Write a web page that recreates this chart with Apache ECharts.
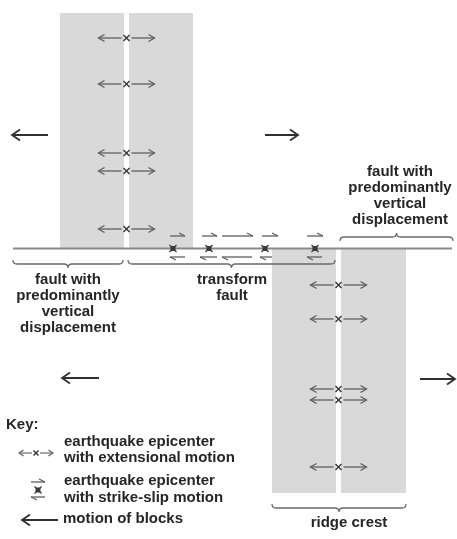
<!DOCTYPE html>
<html><head><meta charset="utf-8">
<script src="https://cdn.jsdelivr.net/npm/echarts@6/dist/echarts.min.js"></script>
<style>html,body{margin:0;padding:0;background:#fff}#c{width:457px;height:539px}</style>
</head><body><div id="c"></div>
<script>
// ---------------- diagram data ----------------
// ridge blocks [x0, x1, yTop, yBottom] (left and right of the ridge-crest gap)
const ridgeBlocks = [[60,124,13,248],[129,193,13,248],[272,336,249,493],[341,406,249,493]];
// fault line extent [xStart, xEnd] and its level
const faultExtent = [13, 452];
const faultLevel = 248.5;
// ridge crest positions and earthquake epicenters along them (y)
const upperCrestX = 126.5;
const upperQuakesY = [38, 84, 153, 171, 229];
const lowerCrestX = 338.5;
const lowerQuakesY = [285, 319, 389, 400, 467];
// strike-slip epicenters along the transform fault (x)
const transformQuakesX = [173, 209, 265, 315];
// slip arrows [from, to]
const slipArrowsNorth = [[170,185],[202,217],[222,253],[262,278],[307,323]];
const slipArrowsSouth = [[185,170],[217,200],[252,222],[272,260],[322,307]];
// block-motion arrows [tailX, headX, y]
const blockMotion = [[48,12,135],[265,298,135],[99,62,378],[420,455,379]];
// braces [x0, x1, yLine, dir]  dir=1: opens upward, tick down
const braces = [[13,123,264,1],[128,335,264,1],[340,453,237,-1],[272,406,508,1]];
// labels [text, x, y]
const labels = [
  ['fault with\npredominantly\nvertical\ndisplacement', 68, 304],
  ['transform\nfault', 232, 288],
  ['fault with\npredominantly\nvertical\ndisplacement', 400, 195.5],
  ['ridge crest', 349, 523]
];
const keyTitle = ['Key:', 6, 425];
const keyItems = [
  ['earthquake epicenter\nwith extensional motion', 64, 450],
  ['earthquake epicenter\nwith strike-slip motion', 64, 489.5],
  ['motion of blocks', 63, 519]
];
const keyExtensional = [[36, 453]];
const keyStrikeSlip = [[38, 490]];
const keyMotion = [[58, 22, 520]];

// ---------------- styles ----------------
const C = {gray:'#d9d9d9', fault:'#8a8a8a', quake:'#5f5f5f', mark:'#3a3a3a', brace:'#6a6a6a', block:'#303030', text:'#262626'};
const FONT = 'bold 15px "Liberation Sans", Arial, sans-serif';

function head(tip, dir, len, half) {
  return [[tip[0]-dir*len, tip[1]-half],[tip[0], tip[1]],[tip[0]-dir*len, tip[1]+half]];
}
function line(a, b, stroke, w) {
  return {type:'line', shape:{x1:a[0],y1:a[1],x2:b[0],y2:b[1]}, style:{stroke:stroke, lineWidth:w}};
}
function poly(pts, stroke, w) {
  return {type:'polyline', shape:{points:pts}, style:{stroke:stroke, lineWidth:w, fill:null}};
}
function custom(name, data, render, z) {
  return {type:'custom', name:name, coordinateSystem:'cartesian2d', data:data, renderItem:render,
    silent:true, animation:false, clip:false, z:z||2, encode:{x:0, y:1}};
}

function blockRender(params, api) {
  const p0 = api.coord([api.value(0), api.value(2)]);
  const p1 = api.coord([api.value(1), api.value(3)]);
  return {type:'rect', shape:{x:p0[0], y:p0[1], width:p1[0]-p0[0], height:p1[1]-p0[1]}, style:{fill:C.gray}};
}
function extensionalRender(reach, gap, hl, hw, lw, mk) {
  return function(params, api) {
    const x = api.value(0), y = api.value(1);
    const c = api.coord([x, y]);
    const l0 = api.coord([x-gap, y]), l1 = api.coord([x-reach, y]);
    const r0 = api.coord([x+gap, y]), r1 = api.coord([x+reach, y]);
    return {type:'group', children:[
      line(l0, l1, C.quake, lw), poly(head(l1, -1, hl, hw), C.quake, lw),
      line(r0, r1, C.quake, lw), poly(head(r1, 1, hl, hw), C.quake, lw),
      line([c[0]-mk, c[1]-mk], [c[0]+mk, c[1]+mk], C.mark, 1.5),
      line([c[0]-mk, c[1]+mk], [c[0]+mk, c[1]-mk], C.mark, 1.5)
    ]};
  };
}
function slipMarkRender(params, api) {
  const c = api.coord([api.value(0), api.value(1)]);
  return {type:'group', children:[
    {type:'rect', shape:{x:c[0]-2.5, y:c[1]-2.5, width:5, height:5}, style:{fill:C.mark}},
    line([c[0]-3.5, c[1]-3.5], [c[0]+3.5, c[1]+3.5], C.mark, 1.2),
    line([c[0]-3.5, c[1]+3.5], [c[0]+3.5, c[1]-3.5], C.mark, 1.2)
  ]};
}
function halfArrowRender(side) {
  return function(params, api) {
    const a = api.coord([api.value(0), api.value(2)]);
    const b = api.coord([api.value(1), api.value(2)]);
    const dir = b[0] > a[0] ? 1 : -1;
    return {type:'group', children:[
      line(a, b, C.quake, 1.3),
      poly([b, [b[0]-dir*6, b[1]+side*3]], C.quake, 1.3)
    ]};
  };
}
function motionRender(params, api) {
  const a = api.coord([api.value(0), api.value(2)]);
  const b = api.coord([api.value(1), api.value(2)]);
  const dir = b[0] > a[0] ? 1 : -1;
  return {type:'group', children:[
    line(a, b, C.block, 1.8), poly(head(b, dir, 8, 5.5), C.block, 1.8)
  ]};
}
function braceRender(params, api) {
  const x0 = api.value(0), x1 = api.value(1), y = api.value(2), d = api.value(3);
  const a = api.coord([x0, y - d*4]), l = api.coord([x0, y]), m = api.coord([(x0+x1)/2, y]);
  const r = api.coord([x1, y]), e = api.coord([x1, y - d*4]), t = api.coord([(x0+x1)/2, y + d*4]);
  const k = 4;
  const pd = 'M'+a[0]+' '+a[1]+' Q'+l[0]+' '+l[1]+' '+(l[0]+k)+' '+l[1]+
    ' L'+(m[0]-k)+' '+m[1]+' Q'+m[0]+' '+m[1]+' '+t[0]+' '+t[1]+
    ' Q'+m[0]+' '+m[1]+' '+(m[0]+k)+' '+m[1]+
    ' L'+(r[0]-k)+' '+r[1]+' Q'+r[0]+' '+r[1]+' '+e[0]+' '+e[1];
  return {type:'path', shape:{pathData:pd}, style:{stroke:C.brace, lineWidth:1.3, fill:null}};
}
function faultRender(params, api) {
  const a = api.coord([api.value(0), api.value(2)]);
  const b = api.coord([api.value(1), api.value(2)]);
  return line(a, b, C.fault, 2);
}

const chart = echarts.init(document.getElementById('c'), null, {renderer:'canvas'});

const textEls = labels.map(function(l) {
  return {type:'text', x:l[1], y:l[2], silent:true,
    style:{text:l[0], font:FONT, fill:C.text, align:'center', verticalAlign:'middle', lineHeight:16}};
}).concat([{type:'text', x:keyTitle[1], y:keyTitle[2], silent:true,
    style:{text:keyTitle[0], font:FONT, fill:C.text, align:'left', verticalAlign:'middle'}}])
  .concat(keyItems.map(function(k) {
    return {type:'text', x:k[1], y:k[2], silent:true,
      style:{text:k[0], font:FONT, fill:C.text, align:'left', verticalAlign:'middle', lineHeight:16.5}};
  }));

chart.setOption({
  backgroundColor:'#ffffff',
  animation:false,
  grid:{left:0, right:0, top:0, bottom:0},
  xAxis:{type:'value', min:0, max:457, show:false},
  yAxis:{type:'value', min:0, max:539, inverse:true, show:false},
  series:[
    custom('ridge blocks', ridgeBlocks, blockRender, 1),
    custom('fault', [[faultExtent[0], faultExtent[1], faultLevel]], faultRender, 2),
    custom('upper ridge quakes', upperQuakesY.map(function(y){return [upperCrestX, y];}), extensionalRender(28, 5, 6, 3.5, 1.3, 3), 3),
    custom('lower ridge quakes', lowerQuakesY.map(function(y){return [lowerCrestX, y];}), extensionalRender(28, 5, 6, 3.5, 1.3, 3), 3),
    custom('transform quakes', transformQuakesX.map(function(x){return [x, faultLevel];}), slipMarkRender, 3),
    custom('slip north', slipArrowsNorth.map(function(s){return [s[0], s[1], faultLevel-12.5];}), halfArrowRender(-1), 3),
    custom('slip south', slipArrowsSouth.map(function(s){return [s[0], s[1], faultLevel+8.5];}), halfArrowRender(1), 3),
    custom('block motion', blockMotion, motionRender, 3),
    custom('braces', braces, braceRender, 3),
    custom('key extensional', keyExtensional, extensionalRender(17, 4, 4.5, 3, 1.1, 2.5), 3),
    custom('key strike-slip mark', keyStrikeSlip, slipMarkRender, 3),
    custom('key slip north', keyStrikeSlip.map(function(p){return [p[0]-7, p[0]+7, p[1]-8];}), halfArrowRender(-1), 3),
    custom('key slip south', keyStrikeSlip.map(function(p){return [p[0]+7, p[0]-7, p[1]+7];}), halfArrowRender(1), 3),
    custom('key motion', keyMotion, motionRender, 3)
  ],
  graphic:textEls
});
</script></body></html>
